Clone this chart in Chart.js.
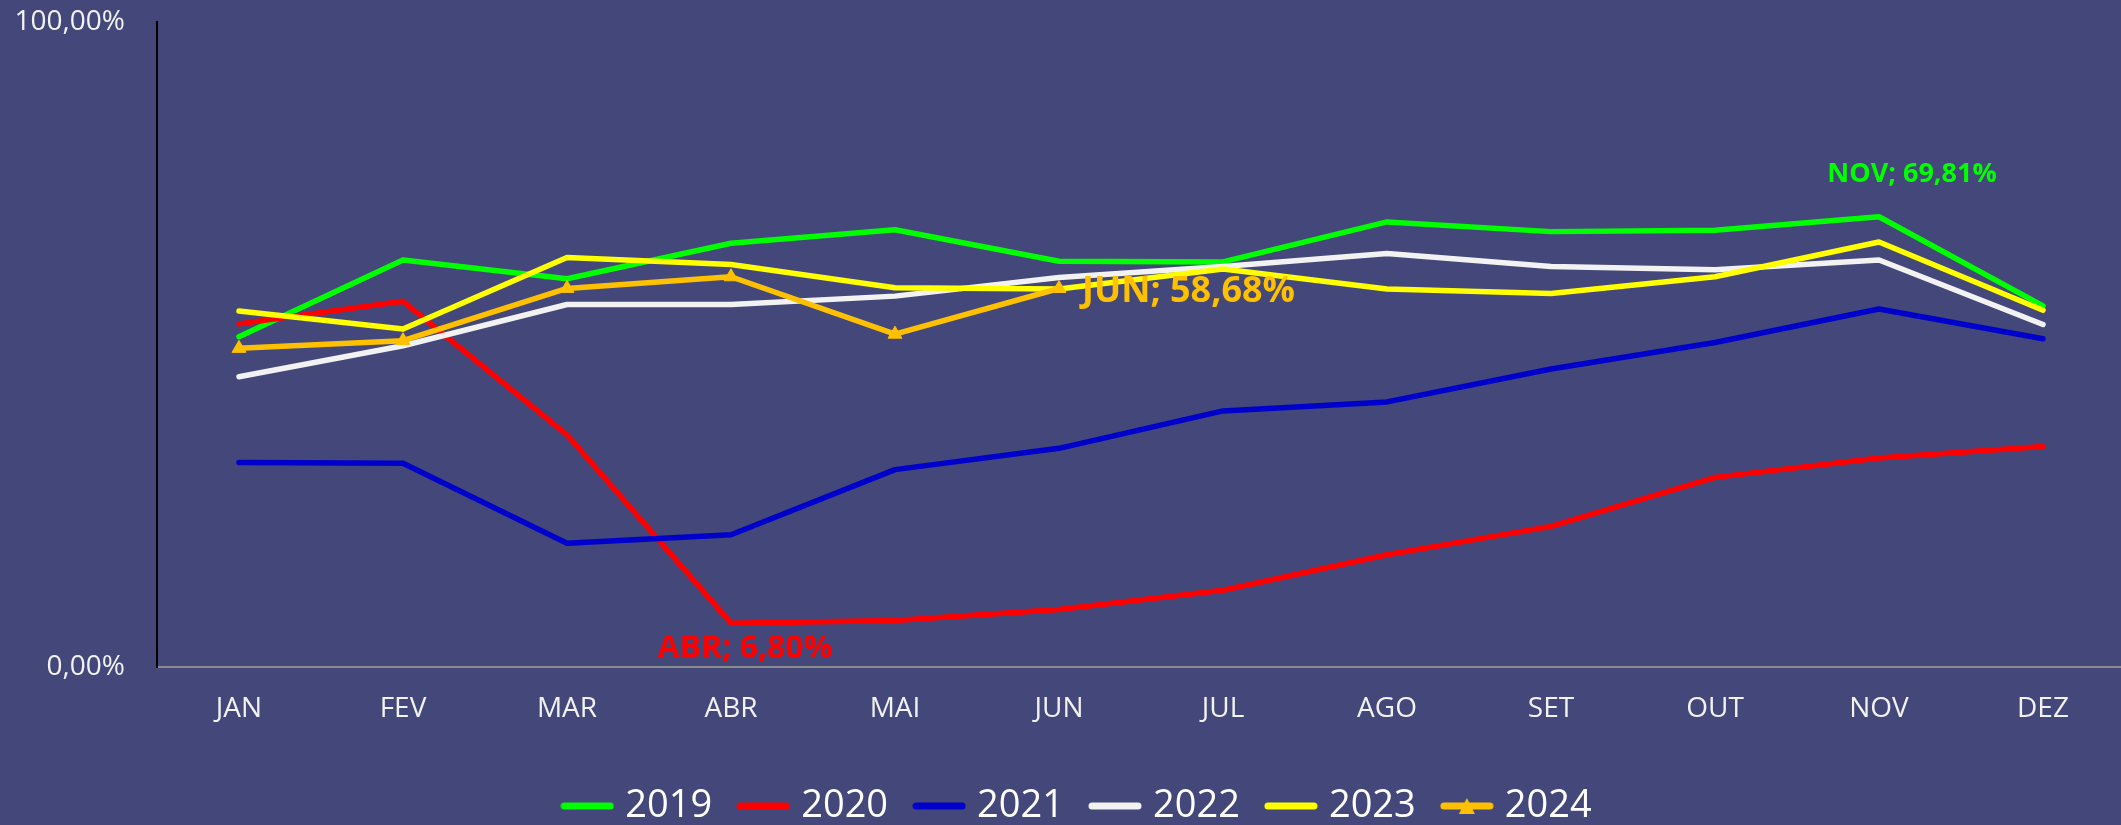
<!DOCTYPE html>
<html lang="pt-BR">
<head>
<meta charset="UTF-8">
<title>Ocupação mensal 2019-2024</title>
<script src="https://cdn.jsdelivr.net/npm/chart.js@4"></script>
<style>
    html, body { margin: 0; padding: 0; background: #434779; overflow: hidden; }
    canvas { display: block; }
</style>
</head>
<body>
<canvas id="grafico" width="2134" height="825"></canvas>
<script>
// Dados (percentual por mês)
const meses = ['JAN', 'FEV', 'MAR', 'ABR', 'MAI', 'JUN', 'JUL', 'AGO', 'SET', 'OUT', 'NOV', 'DEZ'];
const anos = ['2019', '2020', '2021', '2022', '2023', '2024'];

const serie2019 = [51.2, 63.1, 60.2, 65.7, 67.8, 62.9, 62.8, 69.0, 67.5, 67.7, 69.81, 56.0];
const serie2020 = [53.2, 56.7, 36.0, 6.80, 7.2, 8.9, 11.9, 17.4, 21.8, 29.4, 32.4, 34.2];
const serie2021 = [31.7, 31.6, 19.2, 20.5, 30.6, 33.9, 39.7, 41.1, 46.2, 50.3, 55.5, 50.9];
const serie2022 = [45.0, 49.8, 56.2, 56.2, 57.5, 60.4, 62.1, 64.1, 62.1, 61.6, 63.1, 53.1];
const serie2023 = [55.2, 52.4, 63.5, 62.4, 58.8, 58.6, 61.7, 58.6, 57.9, 60.5, 65.9, 55.3];
const serie2024 = [49.4, 50.6, 58.7, 60.5, 51.6, 58.68];

const series = [serie2019, serie2020, serie2021, serie2022, serie2023, serie2024];
const yTicks = [0, 100];

// estilo
const cores = ['#00FF00', '#FF0000', '#0000CC', '#F2F2F2', '#FFFF00', '#FFC000'];

// rótulos de dados destacados
const rotulos = [
    { ano: '2020', mes: 'ABR', size: 32, align: 'center', dx: 14, dy: 26 },
    { ano: '2024', mes: 'JUN', size: 36, align: 'left', dx: 23, dy: 3 },
    { ano: '2019', mes: 'NOV', size: 27, align: 'center', dx: 33, dy: -42 }
];

function fmtPct(v) {
    return v.toFixed(2).replace('.', ',') + '%';
}

// amostras da legenda (linha, e triângulo para 2024)
function amostra(cor, triangulo) {
    const c = document.createElement('canvas');
    c.width = 54;
    c.height = 20;
    const g = c.getContext('2d');
    g.strokeStyle = cor;
    g.lineWidth = 7;
    g.lineCap = 'round';
    g.beginPath();
    g.moveTo(4, 10);
    g.lineTo(50, 10);
    g.stroke();
    if (triangulo) {
        g.fillStyle = cor;
        g.beginPath();
        g.moveTo(27, 2);
        g.lineTo(35, 18);
        g.lineTo(19, 18);
        g.closePath();
        g.fill();
    }
    return c;
}

const rotulosPlugin = {
    id: 'rotulos',
    afterLayout(chart) {
        // a legenda do original fica um pouco à direita do centro
        chart.legend.left += 13;
        chart.legend.right += 13;
    },
    afterDatasetsDraw(chart) {
        const ctx = chart.ctx;
        rotulos.forEach(r => {
            const di = anos.indexOf(r.ano);
            const mi = meses.indexOf(r.mes);
            const pt = chart.getDatasetMeta(di).data[mi];
            const valor = chart.data.datasets[di].data[mi];
            ctx.save();
            ctx.font = 'bold ' + r.size + 'px "Open Sans"';
            ctx.fillStyle = cores[di];
            ctx.textAlign = r.align;
            ctx.textBaseline = 'middle';
            ctx.fillText(r.mes + '; ' + fmtPct(valor), pt.x + r.dx, pt.y + r.dy);
            ctx.restore();
        });
    }
};

Chart.defaults.font.family = '"Open Sans", sans-serif';

const datasets = anos.map((ano, i) => ({
    label: ano,
    data: series[i],
    borderColor: cores[i],
    backgroundColor: cores[i],
    borderWidth: 5.5,
    borderCapStyle: 'round',
    borderJoinStyle: 'round',
    pointStyle: 'triangle',
    pointRadius: ano === '2024' ? 8 : 0,
    pointBorderWidth: 1,
    tension: 0,
    order: anos.length - i
}));

new Chart(document.getElementById('grafico'), {
    type: 'line',
    data: { labels: meses, datasets: datasets },
    plugins: [rotulosPlugin],
    options: {
        responsive: false,
        animation: false,
        devicePixelRatio: 1,
        events: [],
        layout: { padding: { top: 22, left: 0, right: 0, bottom: 0 } },
        scales: {
            x: {
                offset: true,
                grid: { display: false, drawTicks: false },
                border: { display: true, color: '#8a8a8a', width: 2 },
                ticks: { color: '#F2F2F2', font: { size: 28 }, padding: 25, maxRotation: 0 },
                afterFit: s => { s.height = 88; }
            },
            y: {
                min: 0,
                max: 100,
                grid: { display: false, drawTicks: false },
                border: { display: true, color: '#000000', width: 2 },
                afterBuildTicks: s => { s.ticks = yTicks.map(v => ({ value: v })); },
                ticks: { color: '#F2F2F2', font: { size: 28 }, padding: 32, callback: v => fmtPct(v) },
                afterFit: s => { s.width = 157; s.paddingTop = 0; s.paddingBottom = 0; }
            }
        },
        plugins: {
            tooltip: { enabled: false },
            legend: {
                position: 'bottom',
                maxHeight: 70,
                labels: {
                    usePointStyle: true,
                    pointStyleWidth: 38,
                    padding: 32,
                    color: '#FFFFFF',
                    font: { size: 38 },
                    generateLabels: chart => chart.data.datasets.map((ds, i) => ({
                        text: ds.label,
                        fillStyle: ds.borderColor,
                        strokeStyle: ds.borderColor,
                        fontColor: '#FFFFFF',
                        lineWidth: 0,
                        hidden: false,
                        datasetIndex: i,
                        pointStyle: amostra(ds.borderColor, ds.label === '2024')
                    }))
                }
            }
        }
    }
});
</script>
</body>
</html>
